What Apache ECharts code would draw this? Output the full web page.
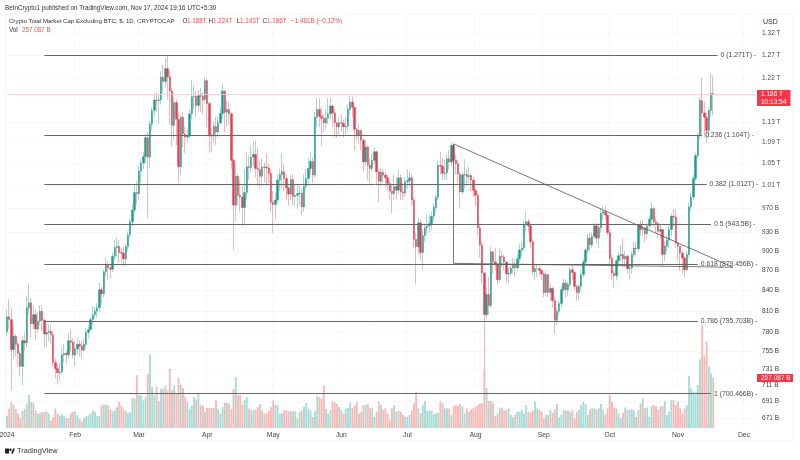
<!DOCTYPE html>
<html>
<head>
<meta charset="utf-8">
<script src="https://cdn.jsdelivr.net/npm/echarts@6/dist/echarts.min.js"></script>
<style>html,body{margin:0;padding:0;background:#fff}#c{width:800px;height:460px}</style>
</head>
<body>
<div id="c"></div>
<script>
// All prices in billions of USD, daily candles from 1 Jan 2024.
const firstOpen = 781;
const closes = [
802,798,757,775,764,752,735,769,766,815,
822,792,805,785,796,810,797,778,780,782,
777,740,732,727,728,750,752,750,769,767,
750,758,764,762,756,764,780,784,798,805,
810,815,841,835,868,878,874,872,892,906,
908,898,897,888,907,926,948,968,998,996,
1036,1051,1063,1099,1062,1125,1153,1174,1173,1175,
1222,1213,1241,1223,1193,1123,1169,1135,1044,1139,
1106,1100,1102,1146,1181,1182,1163,1183,1182,1175,
1215,1167,1104,1102,1121,1110,1128,1147,1193,1149,
1155,1146,1056,976,1027,993,990,972,998,1044,
1043,1062,1067,1041,1039,1027,1044,1043,1042,1032,
981,977,985,1020,1030,1035,1023,1006,995,1021,
991,993,996,997,973,1009,1023,1041,1054,1029,
1139,1155,1141,1137,1128,1137,1146,1162,1148,1128,
1120,1128,1127,1120,1122,1155,1170,1159,1115,1104,
1113,1094,1053,1081,1047,1041,1056,1072,1035,1018,
1034,1029,1024,1014,1000,996,1009,1002,1024,999,
997,1017,1019,1024,985,919,907,946,898,925,
938,941,945,957,972,989,1047,1045,1032,1033,
1059,1053,1084,1056,1050,1031,999,1029,1030,1026,
1028,1020,1002,993,938,910,866,805,834,818,
899,883,879,856,892,891,883,865,866,874,
879,874,888,902,905,943,948,941,915,868,
873,873,870,865,837,864,837,843,825,797,
810,821,841,851,841,849,871,867,846,837,
846,864,883,902,921,910,924,941,921,938,
962,965,959,930,889,866,862,885,893,895,
888,892,873,874,895,905,904,942,935,937,
928,941,952,970,948,945,932,935,895,908,
918,935,957,956,913,908,897,889,871,895,
973,990,1023,1065,1104,1173,1148,1139,1113,1153,1188,1186
];
const highs = [
812,827,815,790,778,768,755,775,780,832,
849,830,818,812,808,818,818,800,792,792,
790,782,745,738,740,758,764,756,780,785,
772,768,772,770,768,772,786,790,802,818,
816,822,852,845,872,890,885,880,898,918,
922,918,905,906,912,932,953,978,1012,1018,
1045,1058,1072,1105,1110,1132,1160,1185,1190,1185,
1235,1250,1265,1271,1235,1200,1180,1175,1150,1145,
1150,1120,1115,1155,1216,1205,1192,1195,1200,1190,
1222,1220,1170,1118,1130,1140,1140,1160,1208,1195,
1175,1170,1150,1058,1050,1030,1020,1010,1040,1070,
1065,1085,1092,1094,1080,1055,1060,1052,1069,1050,
1040,1000,998,1030,1040,1069,1050,1030,1010,1030,
1030,1012,1012,1010,1005,1030,1040,1060,1072,1062,
1150,1179,1178,1160,1145,1155,1179,1180,1165,1155,
1130,1140,1145,1135,1140,1165,1184,1182,1160,1118,
1125,1115,1098,1095,1085,1060,1068,1080,1075,1040,
1042,1040,1034,1030,1020,1012,1030,1025,1040,1030,
1015,1025,1040,1035,1030,990,930,955,950,935,
945,960,960,965,978,995,1055,1072,1060,1058,
1068,1075,1090,1084,1065,1058,1035,1035,1058,1040,
1045,1032,1025,1005,998,945,915,868,845,860,
907,900,905,880,905,900,895,885,875,880,
890,888,895,912,915,950,966,952,943,920,
880,880,878,872,868,870,865,850,845,830,
815,825,846,858,856,853,875,878,868,848,
850,870,888,905,928,930,930,946,945,945,
970,976,975,962,935,895,870,888,900,910,
921,900,895,880,900,915,915,945,950,950,
940,945,958,981,972,955,945,945,935,915,
925,942,962,970,970,915,905,900,892,900,
980,998,1030,1070,1108,1180,1220,1170,1148,1160,1230,1224
];
const lows = [
775,785,705,745,748,735,722,711,755,760,
805,772,785,770,780,790,782,760,762,768,
765,735,720,712,716,725,740,738,745,755,
745,735,750,748,745,755,760,772,785,790,
800,800,808,822,830,862,855,858,868,885,
892,882,882,875,878,900,922,940,962,978,
985,1015,1040,1050,954,1042,1115,1140,1150,1125,
1165,1190,1200,1175,1125,1082,1095,1085,1015,1030,
1080,1070,1090,1098,1135,1155,1140,1150,1150,1145,
1170,1120,1070,1071,1090,1085,1100,1125,1135,1110,
1120,1125,1040,902,948,975,965,940,943,985,
1020,1035,1045,1025,1010,1005,1010,1015,1010,1015,
965,929,951,980,1000,1005,1000,985,975,985,
975,975,970,975,960,965,1005,1010,1030,1015,
1025,1120,1120,1083,1110,1115,1125,1135,1120,1100,
1098,1105,1110,1100,1105,1110,1145,1140,1075,1095,
1088,1075,1036,1045,1020,1015,1035,1050,1010,981,
1008,1015,1008,1000,985,962,985,985,995,985,
985,990,1005,1008,975,905,849,895,885,871,
915,928,930,935,950,965,985,1030,1020,1020,
1020,1040,1045,1040,1030,1015,972,995,1005,1010,
1015,1000,990,975,925,890,850,721,800,805,
815,865,870,849,852,875,870,852,850,862,
865,860,870,882,892,900,930,930,905,862,
855,860,862,855,830,832,830,825,815,778,
790,805,815,838,830,832,845,855,840,825,
825,840,860,880,895,900,905,920,912,905,
930,950,950,925,880,855,844,855,880,885,
875,875,865,856,865,890,892,900,925,925,
915,920,935,945,940,930,920,920,875,885,
900,905,925,940,905,885,870,865,860,870,
890,965,985,1018,1060,1095,1100,1100,1090,1098,1140,1143
];
const volumes = [
62,99,134,120,99,74,51,87,99,125,
171,134,130,91,74,74,82,82,86,74,
39,57,99,74,65,69,62,51,51,77,
82,86,65,48,34,51,60,65,74,91,
82,62,62,116,120,120,116,94,86,91,
108,134,113,96,86,74,82,154,151,271,
168,168,142,159,279,377,211,168,211,137,
202,202,219,194,305,194,219,176,259,223,
206,159,134,99,116,159,147,176,120,116,
82,103,103,103,103,142,99,74,108,130,
130,125,99,202,262,168,171,120,146,159,
99,91,94,94,108,125,91,74,77,87,
108,142,120,116,74,74,91,91,86,86,
86,86,48,82,91,108,130,99,91,57,
86,164,159,151,216,99,74,91,137,130,
125,108,91,74,99,103,130,103,116,134,
74,82,118,118,123,101,101,58,84,135,
118,93,101,75,41,101,118,84,89,84,
67,58,58,67,89,127,187,101,75,118,
139,89,89,89,72,75,79,135,127,101,
101,101,67,113,118,113,123,110,75,101,
84,96,101,110,118,127,127,298,206,139,
139,130,62,75,101,106,89,93,101,67,
55,67,84,84,93,75,118,84,79,89,
135,101,93,84,50,67,67,93,79,96,
123,55,67,93,89,89,84,93,50,84,
93,118,135,123,67,96,101,101,96,101,
123,93,67,101,170,135,106,101,75,50,
79,106,93,93,96,89,58,93,127,152,
101,106,58,113,118,110,93,110,113,140,
67,84,144,144,118,135,101,75,101,118,
267,204,187,182,221,353,529,370,444,315,281,257
];
const monthIndex  = [0,31,60,91,121,152,182,213,244,274,305,335];
const monthLabels = ['2024','Feb','Mar','Apr','May','Jun','Jul','Aug','Sep','Oct','Nov','Dec'];
const priceTicks  = [1320,1270,1220,1130,1090,1050,1010,970,930,900,870,840,810,780,755,731,711,691,671];
const priceLabels = ['1.32 T','1.27 T','1.22 T','1.13 T','1.09 T','1.05 T','1.01 T','970 B','930 B','900 B','870 B','840 B','810 B','780 B','755 B','731 B','711 B','691 B','671 B'];
const fibPrices = [1271,1104,1012,943.5,879.456,795.703,700.466];
const fibTexts  = ['0 (1.271T) -','0.236 (1.104T) -','0.382 (1.012T) -','0.5 (943.5B) -','0.618 (879.456B) -','0.786 (795.703B) -','1 (700.466B) -'];
const fibStart  = 17;
const fibEnds   = [323,316,318,320,314,314,320];
const trendApex = [203,1087];
const trendFoot = [203,881];
const trendTip  = [330,875];
const lastPrice = 1186;

const UP = '#1a9c8a', DOWN = '#e8384f';
const UP_PALE = '#a5d8d2', DOWN_PALE = '#f5b4b6';
const DAYS = 341;
const categories = [];
for (let i = 0; i < DAYS; i++) categories.push(String(i));
const opens = [firstOpen].concat(closes.slice(0, -1));
const wickData = closes.map((c, i) => [opens[i], c, lows[i], highs[i]]);
const bodyData = closes.map((c, i) => [opens[i], c, Math.min(opens[i], c), Math.max(opens[i], c)]);
const volData = volumes.map((v, i) => ({
  value: v,
  itemStyle: { color: closes[i] >= opens[i] ? '#a9dcd6' : '#f8b9b7' }
}));

const FONT = '"Liberation Sans", Arial, sans-serif';
const HEAD = '6.3px ' + FONT;
const monthSet = new Set(monthIndex);
const fibLines = fibPrices.map((p, k) => [
  { coord: [fibStart, p], lineStyle: { color: '#666', width: 1, type: 'solid' },
    label: { show: true, position: 'end', distance: 3, formatter: fibTexts[k], fontFamily: FONT, fontSize: 6.8, color: '#4a4a4a' } },
  { coord: [fibEnds[k], p] }
]);
const trendStyle = { color: '#555', width: 0.8, type: 'solid' };
const trendLines = [
  [{ coord: trendApex, lineStyle: trendStyle, label: { show: false } }, { coord: trendTip }],
  [{ coord: trendApex, lineStyle: trendStyle, label: { show: false } }, { coord: trendFoot }],
  [{ coord: trendFoot, lineStyle: trendStyle, label: { show: false } }, { coord: trendTip }]
];
const faintRows = priceTicks.map(t => ({ yAxis: t }));

const chart = echarts.init(document.getElementById('c'), null, { renderer: 'canvas' });
chart.setOption({
  animation: false,
  backgroundColor: '#fff',
  grid: [
    { left: 5.9, right: 43.9, top: 14, bottom: 32, outerBoundsMode: 'none' },
    { left: 5.9, right: 43.9, top: 300, bottom: 32, outerBoundsMode: 'none' }
  ],
  xAxis: [
    { type: 'category', gridIndex: 0, data: categories, boundaryGap: true,
      axisLine: { show: false }, axisTick: { show: false },
      axisLabel: {
        show: true, interval: i => monthSet.has(i), margin: 4, hideOverlap: false, showMinLabel: true,
        formatter: (v, i) => monthLabels[monthIndex.indexOf(+v)] || '',
        fontFamily: FONT, fontSize: 6.8, color: '#444'
      },
      splitLine: { show: true, interval: i => monthSet.has(i), lineStyle: { color: '#f4f5f8', width: 0.7 } } },
    { type: 'category', gridIndex: 1, data: categories, boundaryGap: true, show: false }
  ],
  yAxis: [
    { type: 'log', logBase: 10, gridIndex: 0, position: 'right', min: 659.5, max: 1366, scale: true,
      axisLine: { show: false }, axisTick: { show: false },
      axisLabel: {
        show: true, customValues: priceTicks, margin: 6, fontFamily: FONT, fontSize: 6.5, color: '#444',
        formatter: v => { const k = priceTicks.findIndex(t => Math.abs(t - v) < 0.5); return k < 0 ? '' : priceLabels[k]; }
      },
      splitLine: { show: false } },
    { type: 'value', gridIndex: 1, min: 0, max: 658, show: false, splitLine: { show: false } }
  ],
  series: [
    { type: 'bar', name: 'Vol', xAxisIndex: 1, yAxisIndex: 1, data: volData, barWidth: 1.9, z: 1, silent: true },
    { type: 'candlestick', name: 'wick', xAxisIndex: 0, yAxisIndex: 0, data: wickData, barWidth: 1, z: 2, silent: true,
      itemStyle: { color: UP_PALE, color0: DOWN_PALE, borderColor: UP_PALE, borderColor0: DOWN_PALE, borderWidth: 1 },
      markLine: { silent: true, symbol: 'none', animation: false, precision: 3, z: 0,
        lineStyle: { color: '#f4f5f8', width: 0.7, type: 'solid' }, label: { show: false }, data: faintRows } },
    { type: 'candlestick', name: 'body', xAxisIndex: 0, yAxisIndex: 0, data: bodyData, barWidth: 2, z: 3, silent: true,
      itemStyle: { color: UP, color0: DOWN, borderColor: UP, borderColor0: DOWN, borderWidth: 0.4 },
      markLine: { silent: true, symbol: 'none', animation: false, precision: 3,
        data: fibLines.concat(trendLines).concat([
          [{ coord: [0, lastPrice], lineStyle: { color: '#f6c9c9', width: 0.8, type: 'solid' }, label: { show: false } },
           { coord: [DAYS - 1, lastPrice] }]
        ]) } }
  ],
  graphic: [
    { type: 'rect', z: -1, shape: { x: 5, y: 14, width: 788, height: 427 }, style: { fill: 'none', stroke: '#f3f4f7', lineWidth: 0.8 } },
    { type: 'text', left: 5, top: 5, style: { text: 'BeInCrypto1 published on TradingView.com, Nov 17, 2024 19:16 UTC+5:30', font: HEAD, fill: '#333' } },
    { type: 'text', left: 9, top: 18.5, style: { text: 'Crypto Total Market Cap Excluding BTC, $, 1D, CRYPTOCAP', font: '6.05px ' + FONT, fill: '#333' } },
    { type: 'text', left: 182.5, top: 18.5, style: { text: 'O', font: HEAD, fill: '#333' } },
    { type: 'text', left: 187, top: 18.5, style: { text: '1.188T', font: HEAD, fill: '#ef5350' } },
    { type: 'text', left: 208.5, top: 18.5, style: { text: 'H', font: HEAD, fill: '#333' } },
    { type: 'text', left: 213, top: 18.5, style: { text: '1.224T', font: HEAD, fill: '#ef5350' } },
    { type: 'text', left: 236.5, top: 18.5, style: { text: 'L', font: HEAD, fill: '#333' } },
    { type: 'text', left: 240, top: 18.5, style: { text: '1.143T', font: HEAD, fill: '#ef5350' } },
    { type: 'text', left: 262.5, top: 18.5, style: { text: 'C', font: HEAD, fill: '#333' } },
    { type: 'text', left: 267, top: 18.5, style: { text: '1.186T', font: HEAD, fill: '#ef5350' } },
    { type: 'text', left: 291, top: 18.5, style: { text: '\u22121.461B (\u22120.12%)', font: HEAD, fill: '#ef5350' } },
    { type: 'text', left: 9, top: 27, style: { text: 'Vol', font: HEAD, fill: '#333' } },
    { type: 'text', left: 22, top: 27, style: { text: '257.087 B', font: HEAD, fill: '#ef5350' } },
    { type: 'text', left: 763, top: 19, style: { text: 'USD', font: '7px ' + FONT, fill: '#333' } },
    { type: 'rect', shape: { x: 757, y: 90, width: 33.5, height: 16 }, style: { fill: '#f0384a' } },
    { type: 'text', left: 761, top: 91, style: { text: '1.186 T', font: '6.5px ' + FONT, fill: '#fff' } },
    { type: 'text', left: 761, top: 98.5, style: { text: '10:13:54', font: '6.5px ' + FONT, fill: '#fff' } },
    { type: 'rect', shape: { x: 757, y: 374, width: 36, height: 8 }, style: { fill: '#f0384a' } },
    { type: 'text', left: 761, top: 374.5, style: { text: '257.087 B', font: '6.5px ' + FONT, fill: '#fff' } },
    { type: 'rect', shape: { x: 5, y: 448.5, width: 4, height: 5 }, style: { fill: '#222' } },
    { type: 'circle', shape: { cx: 10.5, cy: 449.8, r: 1.2 }, style: { fill: '#222' } },
    { type: 'polygon', shape: { points: [[11, 453.5], [13.2, 448.5], [15, 448.5], [13, 453.5]] }, style: { fill: '#222' } },
    { type: 'text', left: 17, top: 447, style: { text: 'TradingView', font: '7.4px ' + FONT, fill: '#333' } }
  ]
});
</script>
</body>
</html>
